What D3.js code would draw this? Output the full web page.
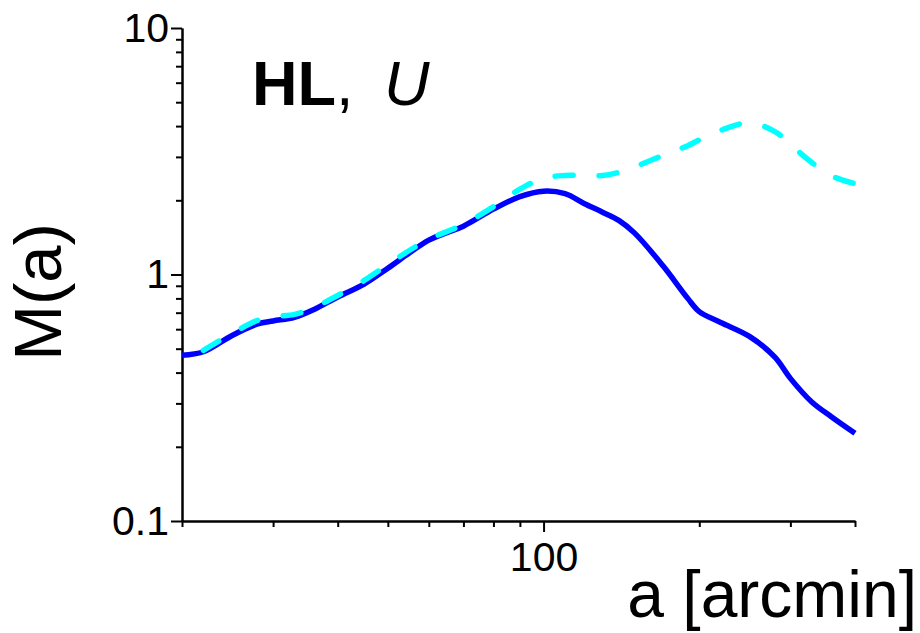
<!DOCTYPE html>
<html>
<head>
<meta charset="utf-8">
<script src="https://d3js.org/d3.v7.min.js"></script>
<style>
  body { margin: 0; background: #fff; }
  text { font-family: "Liberation Sans", Arial, sans-serif; fill: #000; }
  .axis path, .axis line { stroke: #000; stroke-width: 2; }
  .axis text { font-size: 41px; font-family: "Liberation Sans", Arial, sans-serif; }
</style>
</head>
<body>
<script>
// Chart data
var aSolid = [20, 22, 25, 28, 30, 33, 36, 40, 45, 50, 55, 60, 65, 70, 80, 90, 100, 110, 120, 130, 140, 150, 170, 190, 200, 220, 250, 280, 300, 330, 360, 400];
var mSolid = [0.470, 0.486, 0.566, 0.630, 0.648, 0.670, 0.721, 0.811, 0.915, 1.061, 1.222, 1.379, 1.479, 1.571, 1.841, 2.07, 2.178, 2.128, 1.938, 1.79, 1.654, 1.472, 1.087, 0.800, 0.707, 0.639, 0.561, 0.462, 0.379, 0.304, 0.265, 0.227];

var aDashed = [22, 25, 28, 30, 33, 36, 40, 45, 50, 55, 60, 65, 70, 80, 90, 100, 110, 120, 130, 140, 150, 170, 190, 200, 220, 250, 280, 300, 330, 360, 400];
var mDashed = [0.492, 0.577, 0.651, 0.673, 0.689, 0.735, 0.822, 0.946, 1.098, 1.251, 1.392, 1.493, 1.595, 1.885, 2.22, 2.46, 2.522, 2.522, 2.522, 2.60, 2.732, 3.04, 3.33, 3.519, 3.846, 4.12, 3.80, 3.37, 2.846, 2.516, 2.335];

var xMajor = [100];
var xMinor = [20, 30, 40, 50, 60, 70, 80, 90, 200, 300, 400];
var yMajor = [0.1, 1, 10];
var yMinor = [0.2, 0.3, 0.4, 0.5, 0.6, 0.7, 0.8, 0.9, 2, 3, 4, 5, 6, 7, 8, 9];

// SVG area
var svgWidth = 920;
var svgHeight = 633;

var margin = { top: 28, right: 65, bottom: 112, left: 182 };
var width = svgWidth - margin.left - margin.right;
var height = svgHeight - margin.top - margin.bottom;

var svg = d3.select("body")
  .append("svg")
  .attr("width", svgWidth)
  .attr("height", svgHeight);

var chartGroup = svg.append("g")
  .attr("transform", `translate(${margin.left}, ${margin.top})`);

// scales
var xLogScale = d3.scaleLog()
  .domain([20, 400])
  .range([0, width]);

var yLogScale = d3.scaleLog()
  .domain([0.1, 10])
  .range([height, 0]);

// minor ticks first (no labels), then major ticks with labels
chartGroup.append("g")
  .classed("axis", true)
  .attr("transform", `translate(0, ${height})`)
  .call(d3.axisBottom(xLogScale).tickValues(xMinor).tickSize(6).tickSizeOuter(0).tickFormat(""));

chartGroup.append("g")
  .classed("axis", true)
  .attr("transform", `translate(0, ${height})`)
  .call(d3.axisBottom(xLogScale).tickValues(xMajor).tickSize(11).tickSizeOuter(0).tickPadding(10).tickFormat(d3.format("d")));

chartGroup.append("g")
  .classed("axis", true)
  .call(d3.axisLeft(yLogScale).tickValues(yMinor).tickSize(6).tickSizeOuter(0).tickFormat(""));

chartGroup.append("g")
  .classed("axis", true)
  .call(d3.axisLeft(yLogScale).tickValues(yMajor).tickSize(11).tickSizeOuter(0).tickPadding(2).tickFormat(d => d === 0.1 ? "0.1" : d3.format("d")(d)));

// lines
var line = d3.line()
  .x(d => xLogScale(d[0]))
  .y(d => yLogScale(d[1]))
  .curve(d3.curveCatmullRom.alpha(0.5));

var solidData = aSolid.map((a, i) => [a, mSolid[i]]);
var dashedData = aDashed.map((a, i) => [a, mDashed[i]]);

chartGroup.append("path")
  .datum(solidData)
  .attr("d", line)
  .attr("fill", "none")
  .attr("stroke", "#0000ff")
  .attr("stroke-width", 5.5);

chartGroup.append("path")
  .datum(dashedData)
  .attr("d", line)
  .attr("fill", "none")
  .attr("stroke", "#00ffff")
  .attr("stroke-width", 5.5)
  .attr("stroke-linecap", "round")
  .attr("stroke-dasharray", "18,26");

// axis labels
svg.append("text")
  .attr("transform", "translate(61, 292) rotate(-90)")
  .attr("text-anchor", "middle")
  .style("font-size", "67px")
  .text("M(a)");

svg.append("text")
  .attr("x", 917)
  .attr("y", 617)
  .attr("text-anchor", "end")
  .style("font-size", "66px")
  .text("a [arcmin]");

// panel title
var title = svg.append("text")
  .attr("x", 252)
  .attr("y", 105)
  .style("font-size", "63px");
title.append("tspan").style("font-weight", "bold").text("HL");
title.append("tspan").text(",");
title.append("tspan").attr("x", 384).style("font-style", "italic").text("U");
</script>
</body>
</html>
